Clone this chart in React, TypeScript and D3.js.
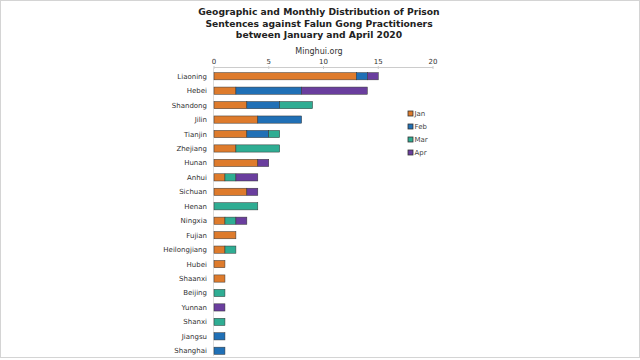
import React from "react";
import * as d3 from "d3";

const provinces = ["Liaoning","Hebei","Shandong","Jilin","Tianjin","Zhejiang","Hunan","Anhui","Sichuan","Henan","Ningxia","Fujian","Heilongjiang","Hubei","Shaanxi","Beijing","Yunnan","Shanxi","Jiangsu","Shanghai"];
const months = ["Jan","Feb","Mar","Apr"];
const jan = [13,2,3,4,3,2,4,1,3,0,1,2,1,1,1,0,0,0,0,0];
const feb = [1,6,3,4,2,0,0,0,0,0,0,0,0,0,0,0,0,0,1,1];
const mar = [0,0,3,0,1,4,0,1,0,4,1,0,1,0,0,1,0,1,0,0];
const apr = [1,6,0,0,0,0,1,2,1,0,1,0,0,0,0,0,1,0,0,0];
const xTicks = [0,5,10,15,20];
const colors = ["#DE7B2C","#2070B6","#2FAD93","#6A3E9E"];

export default function App() {
  const W = 640, H = 360;
  const x = d3.scaleLinear().domain([0, 20]).range([214, 433]);
  const y = d3.scaleBand().domain(provinces).range([69, 358]).paddingInner(0.5).paddingOuter(0.25);
  const series = [jan, feb, mar, apr];
  const rows = provinces.map((p, i) => {
    let acc = 0;
    return months.map((m, k) => {
      const v = series[k][i];
      const seg = { x0: acc, x1: acc + v, k };
      acc += v;
      return seg;
    }).filter(s => s.x1 > s.x0);
  });
  const font = "DejaVu Sans, Verdana, sans-serif";
  return (
    <svg width={W} height={H} style={{ position: "absolute", left: 0, top: 0, background: "#fff" }} fontFamily={font}>
      <rect x={0.5} y={0.5} width={W - 1} height={H - 3} fill="#fff" stroke="#d4d4d4" />
      <g fontWeight="bold" fontSize={9.2} textAnchor="middle" fill="#222">
        <text x={319} y={15}>Geographic and Monthly Distribution of Prison</text>
        <text x={319} y={27}>Sentences against Falun Gong Practitioners</text>
        <text x={319} y={38}>between January and April 2020</text>
      </g>
      <text x={319} y={54} fontSize={8} textAnchor="middle" fill="#333">Minghui.org</text>
      {xTicks.map(t => (
        <g key={t}>
          <text x={x(t)} y={64} fontSize={7} textAnchor="middle" fill="#333">{t}</text>
          <line x1={x(t)} x2={x(t)} y1={66} y2={69} stroke="#ccc" />
        </g>
      ))}
      <line x1={x(0)} x2={x(20)} y1={67.5} y2={67.5} stroke="#ccc" />
      <line x1={x(0) - 0.5} x2={x(0) - 0.5} y1={67} y2={356} stroke="#ddd" />
      {provinces.map((p, i) => (
        <g key={p}>
          <text x={207} y={(y(p) as number) + y.bandwidth() / 2 + 2.5} fontSize={7} textAnchor="end" fill="#333">{p}</text>
          {rows[i].map(s => (
            <rect key={s.k} x={x(s.x0)} y={y(p)} width={x(s.x1) - x(s.x0)} height={y.bandwidth()}
              fill={colors[s.k]} stroke="#333" strokeWidth={0.5} />
          ))}
        </g>
      ))}
      {months.map((m, k) => (
        <g key={m} transform={`translate(408, ${115 + k * 13})`}>
          <rect x={0} y={-4} width={5} height={5} fill={colors[k]} stroke="#333" strokeWidth={0.8} />
          <text x={6.5} y={1} fontSize={7} fill="#444">{m}</text>
        </g>
      ))}
    </svg>
  );
}
